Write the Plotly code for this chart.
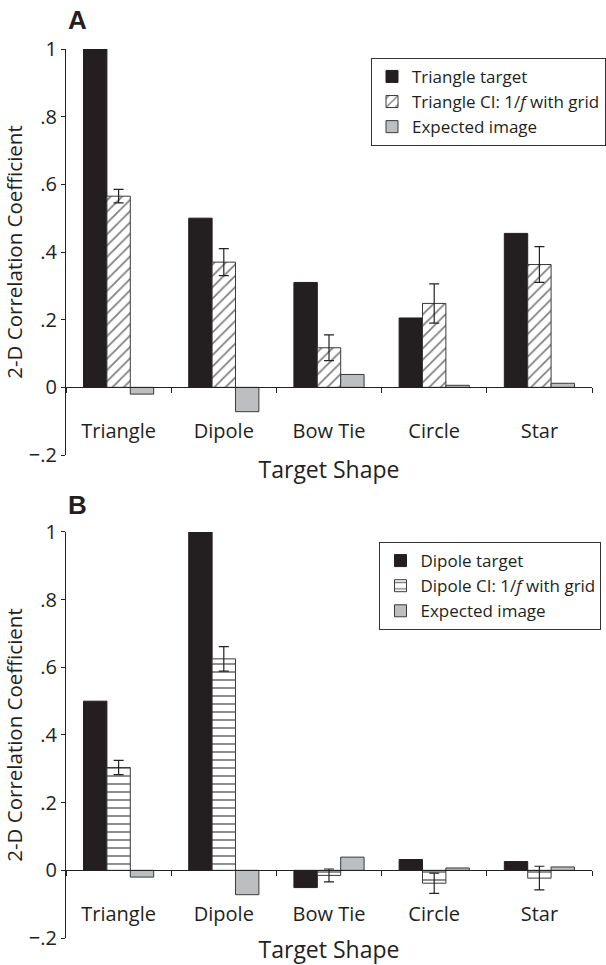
import plotly.graph_objects as go

# Target shapes on the x axis
shapes = ["Triangle", "Dipole", "Bow Tie", "Circle", "Star"]

# Panel A: triangle target
a_target = [1.0, 0.50, 0.31, 0.205, 0.455]
a_ci = [0.565, 0.37, 0.117, 0.248, 0.363]
a_ci_err = [0.02, 0.04, 0.038, 0.058, 0.053]
a_expected = [-0.02, -0.072, 0.038, 0.006, 0.012]

# Panel B: dipole target
b_target = [0.50, 1.0, -0.051, 0.032, 0.026]
b_ci = [0.304, 0.625, -0.015, -0.038, -0.023]
b_ci_err = [0.021, 0.036, 0.019, 0.03, 0.035]
b_expected = [-0.02, -0.072, 0.039, 0.007, 0.01]

ytick_vals = [-0.2, 0, 0.2, 0.4, 0.6, 0.8, 1.0]
ytick_text = ["\u2212.2", "0", ".2", ".4", ".6", ".8", "1"]

FONT = "Open Sans, Noto Sans, sans-serif"
BLACK = "#231f20"
GRAY = "#bcbec0"
OUTLINE = "#3a3a3a"

fig = go.Figure()


def add_panel(target, ci, ci_err, expected, names, hatch, xa, ya, legend):
    fig.add_trace(go.Bar(
        x=shapes, y=target, name=names[0], xaxis=xa, yaxis=ya, legend=legend,
        marker=dict(color=BLACK, line=dict(color=BLACK, width=1)),
    ))
    fig.add_trace(go.Bar(
        x=shapes, y=ci, name=names[1], xaxis=xa, yaxis=ya, legend=legend,
        marker=dict(color="white", line=dict(color=OUTLINE, width=1),
                    pattern=dict(shape=hatch, fgcolor="#000", bgcolor="white",
                                 size=8, solidity=0.22)),
        error_y=dict(type="data", array=ci_err, visible=True, color="#222",
                     thickness=1.2, width=5),
    ))
    fig.add_trace(go.Bar(
        x=shapes, y=expected, name=names[2], xaxis=xa, yaxis=ya, legend=legend,
        marker=dict(color=GRAY, line=dict(color=OUTLINE, width=1)),
    ))


add_panel(a_target, a_ci, a_ci_err, a_expected,
          ["Triangle target", "Triangle CI: 1/<i>f</i> with grid", "Expected image"],
          "/", "x", "y", "legend")
add_panel(b_target, b_ci, b_ci_err, b_expected,
          ["Dipole target", "Dipole CI: 1/<i>f</i> with grid", "Expected image"],
          "-", "x2", "y2", "legend2")

top_dom = [0.5433, 1.0]
bot_dom = [0.0, 0.4567]


def zero_pos(dom):
    return dom[0] + (dom[1] - dom[0]) * (0.2 / 1.2)


xcommon = dict(
    type="category", categoryorder="array", categoryarray=shapes,
    range=[-0.5, 4.5], anchor="free", showline=True, linecolor="#222",
    linewidth=1.2, ticks="outside", tickson="boundaries", ticklen=5,
    tickcolor="#222", ticklabelstandoff=26, showgrid=False, zeroline=False,
    tickfont=dict(size=20, color="#231f20"),
    title=dict(text="Target Shape", font=dict(size=23, color="#231f20"), standoff=18),
)
ycommon = dict(
    range=[-0.2, 1.0], tickvals=ytick_vals, ticktext=ytick_text,
    showline=True, linecolor="#222", linewidth=1.2, ticks="outside",
    ticklen=4, tickcolor="#222", showgrid=False, zeroline=False,
    tickfont=dict(size=20, color="#231f20"),
    title=dict(text="2-D Correlation Coefficient", font=dict(size=20.5, color="#231f20"),
               standoff=5),
)

fig.update_layout(
    width=606, height=965,
    margin=dict(l=66, r=0, t=49, b=27),
    paper_bgcolor="white", plot_bgcolor="white",
    font=dict(family=FONT, color="#231f20"),
    barmode="group", bargap=0.333, bargroupgap=0,
    xaxis=dict(xcommon, domain=[0, 1], position=zero_pos(top_dom)),
    yaxis=dict(ycommon, domain=top_dom, anchor="x"),
    xaxis2=dict(xcommon, domain=[0, 1], position=zero_pos(bot_dom)),
    yaxis2=dict(ycommon, domain=bot_dom, anchor="x2"),
    legend=dict(x=0.58, y=0.99, xanchor="left", yanchor="top",
                bordercolor="#333", borderwidth=1, bgcolor="white",
                font=dict(size=17), tracegroupgap=0, itemwidth=30),
    legend2=dict(x=0.596, y=0.4454, xanchor="left", yanchor="top",
                 bordercolor="#333", borderwidth=1, bgcolor="white",
                 font=dict(size=17), tracegroupgap=0, itemwidth=30),
    showlegend=True,
    annotations=[
        dict(text="<b>A</b>", x=0.0, y=1.0, xref="paper", yref="paper",
             xanchor="left", yanchor="bottom", showarrow=False, yshift=12,
             font=dict(size=26, family="Liberation Sans, Arial, sans-serif")),
        dict(text="<b>B</b>", x=0.0, y=bot_dom[1], xref="paper", yref="paper",
             xanchor="left", yanchor="bottom", showarrow=False, yshift=10,
             font=dict(size=26, family="Liberation Sans, Arial, sans-serif")),
    ],
)

fig.write_html("out.html")
